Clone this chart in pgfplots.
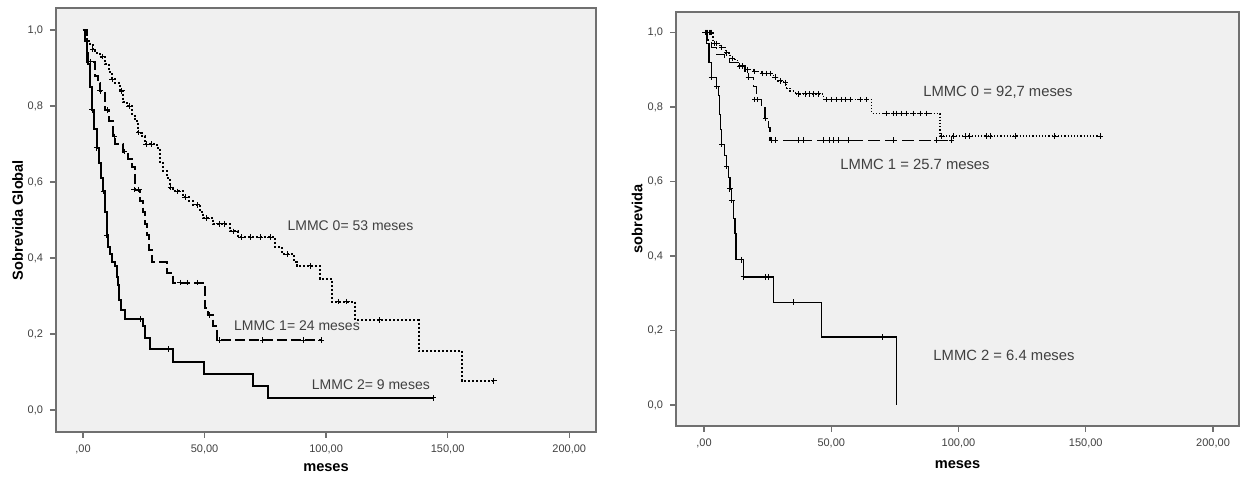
\documentclass[border=0pt]{standalone}
\usepackage{fontspec}
\setmainfont{Liberation Sans}
\usepackage{pgfplots}
\pgfplotsset{compat=1.18}

\definecolor{bgarea}{HTML}{F0F0F0}
\definecolor{framegray}{HTML}{707070}
\definecolor{txtgray}{HTML}{404040}

\tikzset{lbl/.style={anchor=west, inner sep=0pt, text=txtgray}}

\pgfplotsset{
  kmaxis/.style={
    scale only axis,
    axis background/.style={fill=bgarea},
    axis line style={framegray, line width=0.9pt},
    tick style={framegray, line width=0.7pt},
    tick align=outside,
    major tick length=3pt,
    xtick pos=left, ytick pos=left,
    xtick={0,50,100,150,200},
    xticklabels={{,00},{50,00},{100,00},{150,00},{200,00}},
    ytick={0,0.2,0.4,0.6,0.8,1},
    yticklabels={{0,0},{0,2},{0,4},{0,6},{0,8},{1,0}},
    ticklabel style={font=\fontsize{5.5}{6}\selectfont, text=txtgray},
    label style={font=\fontsize{7.3}{8}\selectfont\bfseries, text=black},
    xlabel=meses,
    clip=false,
  },
  km/.style={const plot, black, no markers},
  cens/.style={only marks, mark=+, black, mark size=1.4pt, mark options={solid, line width=0.5pt}},
}

\begin{document}
\begin{tikzpicture}
\path (0,0) rectangle (621pt,237pt);

% left panel
\begin{axis}[kmaxis,
  at={(28pt,21pt)}, anchor=south west,
  width=270pt, height=212pt,
  xmin=-11.1, xmax=211, ymin=-0.058, ymax=1.058,
  ylabel={Sobrevida Global},
  xlabel style={at={(axis description cs:0.5,-0.085)}, anchor=center},
  ylabel style={at={(axis description cs:-0.071,0.5)}, anchor=center},
]
% LMMC 0
\addplot[km, densely dotted, line width=1pt] coordinates {
(0,1.0) (0.8,0.98) (1.6,0.97) (3,0.96) (4,0.95) (5,0.94) (7,0.93) (9,0.91)
(10.5,0.89) (11.8,0.87) (13,0.86) (15.2,0.84) (16.6,0.81) (18,0.80) (20,0.775)
(21.4,0.76) (22.8,0.73) (24.1,0.72) (25.5,0.70) (30.3,0.69) (31.7,0.65) (33,0.63)
(34.4,0.61) (35.8,0.585) (37.2,0.575) (41.3,0.56) (43.5,0.55) (45.4,0.54)
(48.1,0.52) (49.5,0.505) (53.6,0.49) (60.5,0.47) (63.9,0.455) (79,0.43)
(81.8,0.41) (86.6,0.39) (88,0.379) (97.5,0.345) (102.5,0.285) (112,0.237)
(138,0.156) (155.8,0.077) (169,0.077)
};
\addplot[cens] coordinates {
(4,0.95) (8,0.93) (12,0.87) (16,0.84) (19,0.80) (23,0.73) (26,0.70) (28,0.70)
(36,0.585) (39,0.575) (42,0.56) (47,0.54) (51,0.505) (56,0.49) (58,0.49)
(62,0.47) (65,0.455) (69,0.455) (73,0.455) (77,0.455) (84,0.41) (93.4,0.379)
(105,0.285) (108.5,0.285) (122,0.237) (169,0.077)
};
% LMMC 1
\addplot[km, dash pattern=on 5pt off 2pt, line width=1pt] coordinates {
(0,1.0) (1.5,0.917) (4.9,0.88) (6,0.86) (7,0.84) (9,0.79) (10.5,0.76)
(12.4,0.72) (13,0.70) (16.5,0.68) (18.6,0.66) (20,0.64) (21.4,0.58) (23.5,0.55)
(24.8,0.52) (25.5,0.49) (26.2,0.46) (27,0.42) (28.3,0.39) (34.4,0.36)
(37.2,0.335) (50.2,0.268) (51.5,0.25) (53.6,0.22) (55.2,0.184) (98,0.184)
};
\addplot[cens] coordinates {
(3,0.917) (7,0.84) (10,0.79) (13,0.72) (17,0.68) (21,0.58) (23,0.58)
(40,0.335) (43,0.335) (47,0.335) (52,0.25) (56,0.184) (74,0.184) (90.5,0.184)
(98,0.184)
};
% LMMC 2
\addplot[km, line width=1pt] coordinates {
(0,1.0) (0.8,0.97) (1.5,0.94) (2.2,0.91) (3,0.85) (3.8,0.79) (4.7,0.74)
(5.6,0.69) (6.5,0.65) (7.5,0.61) (8.4,0.575) (9,0.52) (9.7,0.46) (10.4,0.43)
(11.1,0.41) (12,0.39) (13.2,0.38) (14,0.35) (14.5,0.33) (15,0.29) (15.5,0.263)
(17.3,0.24) (24.7,0.22) (25.5,0.19) (27.6,0.16) (37,0.127) (49.8,0.095)
(70,0.063) (76,0.032) (144,0.032)
};
\addplot[cens] coordinates {
(3.8,0.79) (5.6,0.69) (8.4,0.575) (9.7,0.46) (23.5,0.24) (35,0.16) (144,0.032)
};
\node[lbl, font=\fontsize{7}{8}\selectfont] at (axis cs:84,0.485) {LMMC 0= 53 meses};
\node[lbl, font=\fontsize{7}{8}\selectfont] at (axis cs:62,0.221) {LMMC 1= 24 meses};
\node[lbl, font=\fontsize{7}{8}\selectfont] at (axis cs:94,0.066) {LMMC 2= 9 meses};
\end{axis}

% right panel
\begin{axis}[kmaxis,
  at={(338pt,24pt)}, anchor=south west,
  width=281.5pt, height=207pt,
  xmin=-11, xmax=210.2, ymin=-0.056, ymax=1.055,
  ylabel={sobrevida},
  xlabel style={at={(axis description cs:0.5,-0.094)}, anchor=center},
  ylabel style={at={(axis description cs:-0.069,0.5)}, anchor=center},
]
% LMMC 0
\addplot[km, densely dotted, line width=0.6pt] coordinates {
(0,1.0) (3.5,0.97) (6.3,0.96) (8.3,0.945) (10.2,0.93) (12.2,0.925) (13.5,0.91)
(16.1,0.90) (19.4,0.895) (22.7,0.89) (27.2,0.88) (29,0.87) (31.2,0.865)
(32.5,0.85) (33.8,0.843) (35.8,0.835) (46.9,0.82) (65.9,0.783) (92.7,0.722)
(155.6,0.722)
};
\addplot[cens] coordinates {
(0.5,1) (1,1) (1.5,1) (2,1) (2.5,1) (3,1) (4,0.97) (5,0.97) (7,0.96) (9,0.945)
(11,0.93) (14,0.91) (15,0.91) (17,0.90) (20,0.895) (23,0.89) (24.5,0.89)
(26,0.89) (28,0.88) (30,0.87) (32,0.865) (37,0.835) (39.7,0.835) (41.6,0.835)
(43,0.835) (44.8,0.835) (48.2,0.82) (50.2,0.82) (52.1,0.82) (54.1,0.82)
(55.4,0.82) (57.4,0.82) (61.3,0.82) (63.9,0.82) (71.8,0.783) (74.4,0.783)
(75.7,0.783) (77.7,0.783) (79.6,0.783) (82.2,0.783) (84.9,0.783) (87.5,0.783)
(93.5,0.722) (98,0.722) (102.6,0.722) (104.5,0.722) (111,0.722) (112.4,0.722)
(122.2,0.722) (137.9,0.722) (155.6,0.722)
};
% LMMC 1
\addplot[km, dash pattern=on 6pt off 2.5pt, line width=0.6pt] coordinates {
(0,1.0) (1.5,0.98) (3,0.96) (5,0.94) (8,0.93) (10,0.92) (13,0.91) (16.1,0.895)
(17.4,0.88) (19.4,0.855) (20.7,0.82) (22.7,0.80) (24,0.77) (25.3,0.745)
(25.9,0.711) (97.3,0.711)
};
\addplot[cens] coordinates {
(17.5,0.88) (20,0.82) (21,0.82) (24.2,0.77) (26.5,0.711) (27.9,0.711) (37,0.711)
(39,0.711) (47,0.711) (49.5,0.711) (50.8,0.711) (52.7,0.711) (56.7,0.711)
(74.4,0.711) (91.4,0.711) (97.3,0.711)
};
% LMMC 2
\addplot[km, line width=0.6pt] coordinates {
(0,1.0) (1,0.97) (2,0.92) (3,0.88) (5,0.855) (5.6,0.83) (6,0.78) (6.5,0.74)
(7,0.70) (8,0.67) (8.9,0.64) (9.5,0.61) (10.2,0.58) (10.9,0.55) (11.5,0.50)
(12.2,0.46) (12.6,0.39) (15.5,0.344) (27.2,0.276) (46.2,0.183) (75.7,0)
};
\addplot[cens] coordinates {
(3,0.88) (5,0.855) (7,0.70) (8.9,0.64) (10.2,0.58) (10.9,0.55) (14.8,0.39)
(15.5,0.344) (24,0.344) (25.3,0.344) (35,0.276) (70,0.183)
};
\node[lbl, font=\fontsize{7.4}{8}\selectfont] at (axis cs:86,0.84) {LMMC 0 = 92,7 meses};
\node[lbl, font=\fontsize{7.4}{8}\selectfont] at (axis cs:53.4,0.645) {LMMC 1 = 25.7 meses};
\node[lbl, font=\fontsize{7.4}{8}\selectfont] at (axis cs:90,0.134) {LMMC 2 = 6.4 meses};
\end{axis}
\end{tikzpicture}
\end{document}
